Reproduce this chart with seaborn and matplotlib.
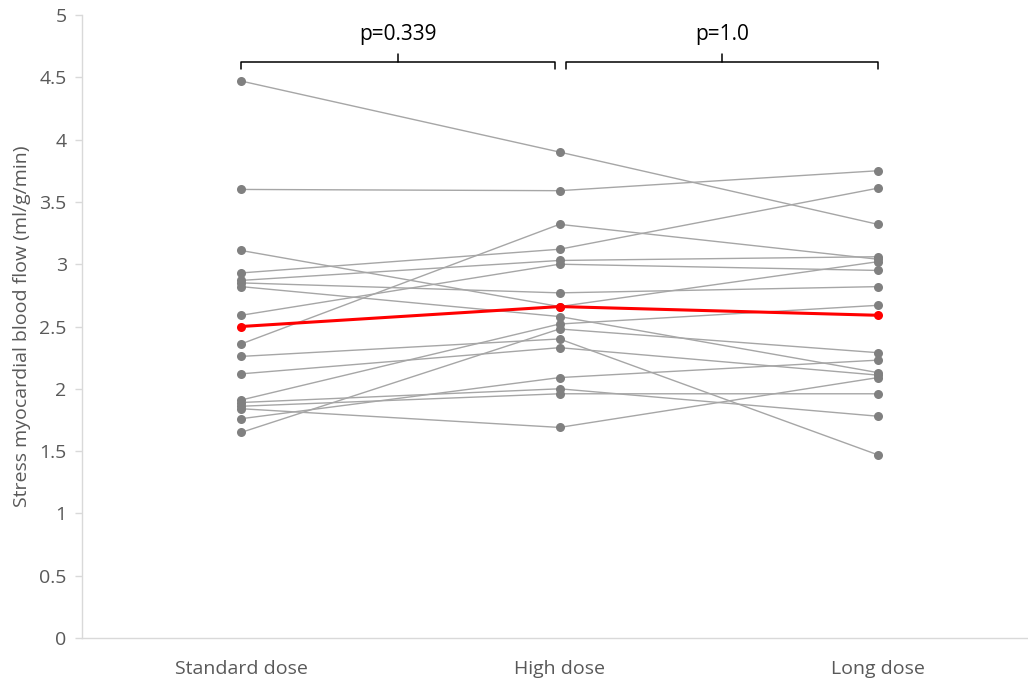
import matplotlib
matplotlib.use("Agg")
import matplotlib.pyplot as plt
import seaborn as sns
import pandas as pd

# Stress myocardial blood flow per subject (ml/g/min)
doses = ["Standard dose", "High dose", "Long dose"]
standard = [4.47, 3.60, 3.11, 2.93, 2.87, 2.85, 2.82, 2.59, 2.36, 2.26, 2.12, 1.91, 1.89, 1.86, 1.84, 1.76, 1.65]
high     = [3.90, 3.59, 2.66, 3.12, 3.03, 2.77, 2.58, 3.00, 3.32, 2.40, 2.33, 2.52, 2.00, 1.96, 1.69, 2.09, 2.48]
long_    = [3.32, 3.75, 3.02, 3.61, 3.06, 2.82, 2.13, 2.95, 3.04, 1.47, 2.11, 2.67, 1.78, 1.96, 2.09, 2.23, 2.29]
group_mean = [2.50, 2.66, 2.59]
p_values = ["p=0.339", "p=1.0"]
y_ticks = [0, 0.5, 1, 1.5, 2, 2.5, 3, 3.5, 4, 4.5, 5]
y_tick_labels = ["0", "0.5", "1", "1.5", "2", "2.5", "3", "3.5", "4", "4.5", "5"]

rows = []
for i, vals in enumerate(zip(standard, high, long_)):
    for d, v in zip(doses, vals):
        rows.append({"subject": i, "dose": d, "flow": v})
df = pd.DataFrame(rows)
df_mean = pd.DataFrame({"dose": doses, "flow": group_mean})

sns.set_theme(style="white")
plt.rcParams["font.family"] = ["Open Sans", "DejaVu Sans"]

W, H = 1028, 681
fig = plt.figure(figsize=(W / 100, H / 100), dpi=100)
ax = fig.add_axes([82 / W, 43 / H, 955 / W, 623 / H])

line_grey = "#a6a6a6"
dot_grey = "#808080"
sns.lineplot(data=df, x="dose", y="flow", units="subject", estimator=None,
             color=line_grey, lw=1.0, marker="o", markersize=6.5,
             markerfacecolor=dot_grey, markeredgewidth=0, ax=ax, sort=False)
sns.lineplot(data=df_mean, x="dose", y="flow", color="#ff0000", lw=2.2,
             marker="o", markersize=6.5, markeredgewidth=0, ax=ax, sort=False)

ax.set_xlim(-0.5, 2.5)
ax.set_ylim(0, 5)
ax.set_yticks(y_ticks)
ax.set_yticklabels(y_tick_labels)
ax.set_xlabel("")
ax.set_ylabel("Stress myocardial blood flow (ml/g/min)", fontsize=14, color="#595959", labelpad=6)

for s in ["top", "right"]:
    ax.spines[s].set_visible(False)
for s in ["left", "bottom"]:
    ax.spines[s].set_color("#d9d9d9")
    ax.spines[s].set_linewidth(1.0)
ax.tick_params(axis="y", which="major", left=True, length=5, width=1,
               color="#d9d9d9", labelsize=14, labelcolor="#595959", pad=6)
ax.tick_params(axis="x", bottom=False, labelsize=14, labelcolor="#595959", pad=10)

# Comparison brackets with p-values
def bracket(x0, x1, label):
    yb, yend, ytop = 4.62, 4.565, 4.69
    xm = (x0 + x1) / 2
    kw = dict(color="black", lw=1.1, solid_capstyle="round")
    ax.plot([x0, x0, x1, x1], [yend, yb, yb, yend], **kw)
    ax.plot([xm, xm], [yb, ytop], **kw)
    ax.text(xm, 4.76, label, ha="center", va="bottom", fontsize=15, color="black")

bracket(0.0, 0.985, p_values[0])
bracket(1.02, 2.0, p_values[1])

fig.savefig("out.png", dpi=100)
